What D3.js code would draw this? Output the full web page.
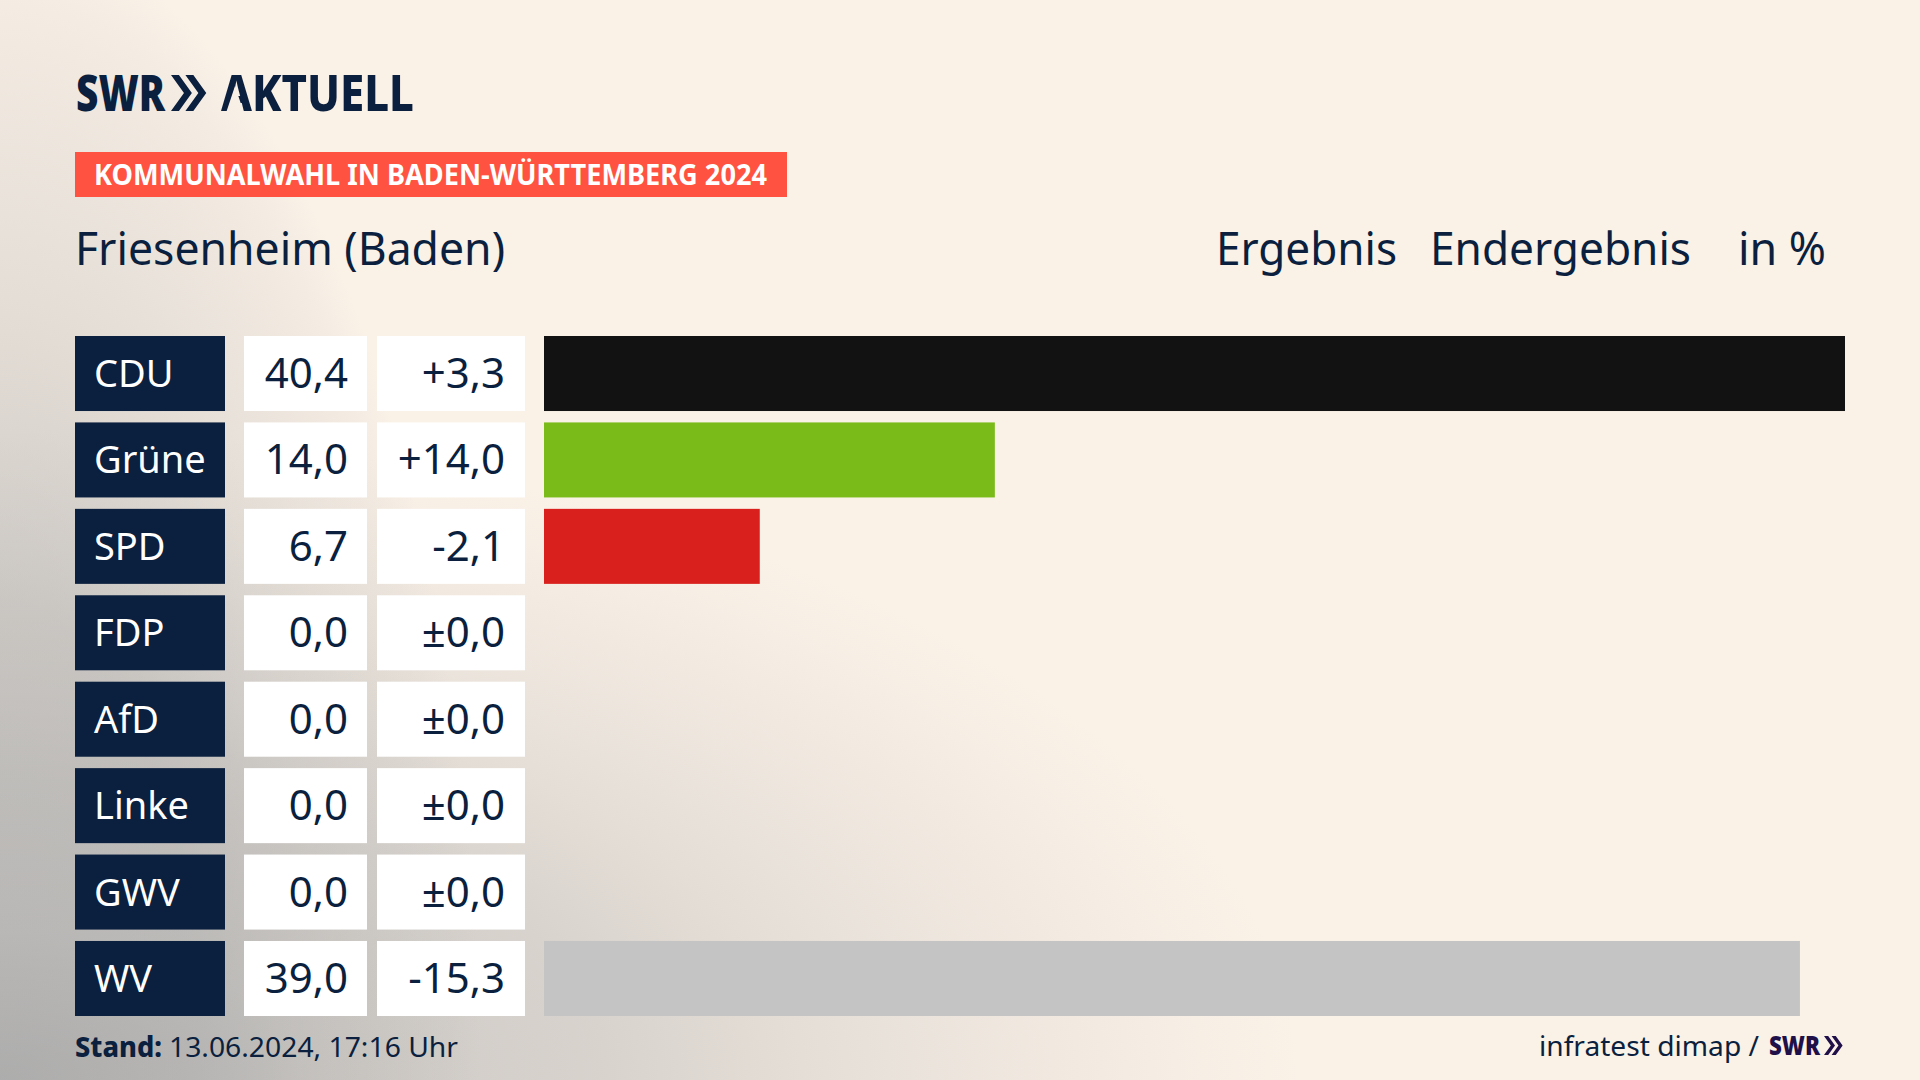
<!DOCTYPE html>
<html>
<head>
<meta charset="utf-8">
<script src="https://cdn.jsdelivr.net/npm/d3@7"></script>
<style>
html, body { margin: 0; padding: 0; background: #faf1e7; }
svg { display: block; }
text { font-family: "Noto Sans", sans-serif; }
</style>
</head>
<body>
<svg id="chart" width="1920" height="1080"></svg>
<script>
var parties = ["CDU", "Grüne", "SPD", "FDP", "AfD", "Linke", "GWV", "WV"];
var shares = [40.4, 14.0, 6.7, 0.0, 0.0, 0.0, 0.0, 39.0];
var diffs = [3.3, 14.0, -2.1, 0.0, 0.0, 0.0, 0.0, -15.3];
var barColors = ["#121212", "#7abb1a", "#d9201c", "#e3000f", "#009ee0", "#be3075", "#c4c4c4", "#c4c4c4"];

var navy = "#0b1f3e";
var svg = d3.select("#chart");
var defs = svg.append("defs");

// background: cream with two grey glows out of the bottom left corner
function glow(id, rx, ry, stops) {
    var g = defs.append("radialGradient").attr("id", id)
        .attr("gradientUnits", "userSpaceOnUse")
        .attr("cx", 0).attr("cy", 0).attr("r", 1)
        .attr("gradientTransform", "translate(0,1080) scale(" + rx + "," + ry + ")");
    stops.forEach(function(s) {
        g.append("stop").attr("offset", s[0]).attr("stop-color", "#aaaaaa").attr("stop-opacity", s[1]);
    });
    svg.append("rect").attr("width", 1920).attr("height", 1080).attr("fill", "url(#" + id + ")");
}
svg.append("rect").attr("width", 1920).attr("height", 1080).attr("fill", "#faf1e7");
glow("glowWide", 1300, 650, [[0, 0.9], [0.23, 0.55], [0.46, 0.43], [0.615, 0.27], [0.77, 0.14], [0.92, 0.04], [1, 0]]);
glow("glowTall", 480, 1150, [[0, 0.6], [0.157, 0.57], [0.417, 0.52], [0.678, 0.27], [0.94, 0.07], [1, 0]]);

var x = d3.scaleLinear().domain([0, 40.4]).range([544, 1845]);
var y = d3.scaleBand().domain(parties).range([336, 1016]).paddingInner(0.132);

var de = d3.formatLocale({decimal: ",", thousands: ".", grouping: [3], currency: ["", "€"], minus: "-"});
var fmtShare = de.format(".1f");
var fmtDiff = de.format("+.1f");
function diffLabel(d) { return d === 0 ? "±" + fmtShare(0) : fmtDiff(d); }

// text squeezed to the width it has in the picture
function label(txt, px, py, size, width, opts) {
    opts = opts || {};
    var t = svg.append("text").attr("x", px).attr("y", py)
        .attr("font-size", size)
        .attr("font-weight", opts.weight || 400)
        .attr("fill", opts.fill || navy)
        .text(txt);
    if (width) t.attr("textLength", width).attr("lengthAdjust", "spacingAndGlyphs");
    return t;
}

function chevrons(px, py, h, fill) {
    var s = h * 0.22, p = h * 0.36, gap = h * 0.4;
    [0, 1].forEach(function(i) {
        var c = d3.path(), x0 = px + i * gap;
        c.moveTo(x0, py);
        c.lineTo(x0 + s, py);
        c.lineTo(x0 + s + p, py + h / 2);
        c.lineTo(x0 + s, py + h);
        c.lineTo(x0, py + h);
        c.lineTo(x0 + p, py + h / 2);
        c.closePath();
        svg.append("path").attr("d", c.toString()).attr("fill", fill);
    });
}

// logo, the A of AKTUELL has no crossbar
var noBar = defs.append("mask").attr("id", "noBar").attr("maskUnits", "userSpaceOnUse")
    .attr("x", 0).attr("y", 0).attr("width", 500).attr("height", 150);
noBar.append("rect").attr("width", 500).attr("height", 150).attr("fill", "#fff");
noBar.append("path").attr("d", "M235,86L226,113L244,113Z").attr("fill", "#000");

label("SWR", 76, 111, 50, 89, {weight: 900});
chevrons(171, 75, 36, navy);
label("AKTUELL", 221, 111, 50, 193, {weight: 800}).attr("mask", "url(#noBar)");

// banner
svg.append("rect").attr("x", 75).attr("y", 152).attr("width", 712).attr("height", 45).attr("fill", "#ff5240");
label("KOMMUNALWAHL IN BADEN-WÜRTTEMBERG 2024", 94, 185, 28, 673, {weight: 700, fill: "#fff"});

// headline
label("Friesenheim (Baden)", 75, 265, 45, 430);
label("Ergebnis", 1216, 265, 45, 181);
label("Endergebnis", 1430, 265, 45, 261);
label("in %", 1738, 265, 45, 88);

// rows
var rows = svg.append("g").selectAll("g")
    .data(parties)
    .enter().append("g")
    .attr("transform", function(d) { return "translate(0," + y(d) + ")"; });

rows.append("rect").attr("x", 75).attr("width", 150).attr("height", y.bandwidth()).attr("fill", navy);
rows.append("rect").attr("x", 244).attr("width", 123).attr("height", y.bandwidth()).attr("fill", "#fff");
rows.append("rect").attr("x", 377).attr("width", 148).attr("height", y.bandwidth()).attr("fill", "#fff");

rows.append("rect")
    .attr("x", x(0))
    .attr("width", function(d, i) { return x(shares[i]) - x(0); })
    .attr("height", y.bandwidth())
    .attr("fill", function(d, i) { return barColors[i]; });

rows.append("text")
    .attr("x", 94).attr("y", 51)
    .attr("font-size", 38)
    .attr("fill", "#fff")
    .text(function(d) { return d; });

rows.append("text")
    .attr("x", 348).attr("y", 52)
    .attr("font-size", 42)
    .attr("fill", navy)
    .attr("text-anchor", "end")
    .text(function(d, i) { return fmtShare(shares[i]); });

rows.append("text")
    .attr("x", 505).attr("y", 52)
    .attr("font-size", 42)
    .attr("fill", navy)
    .attr("text-anchor", "end")
    .text(function(d, i) { return diffLabel(diffs[i]); });

// footer
label("Stand:", 75, 1057, 28, 87, {weight: 800});
label("13.06.2024, 17:16 Uhr", 169, 1057, 28, 289);
label("infratest dimap /", 1539, 1056, 28, 220);
label("SWR", 1769, 1055, 26, 51, {weight: 900, fill: "#20104a"});
chevrons(1824, 1036, 19, "#20104a");
</script>
</body>
</html>
